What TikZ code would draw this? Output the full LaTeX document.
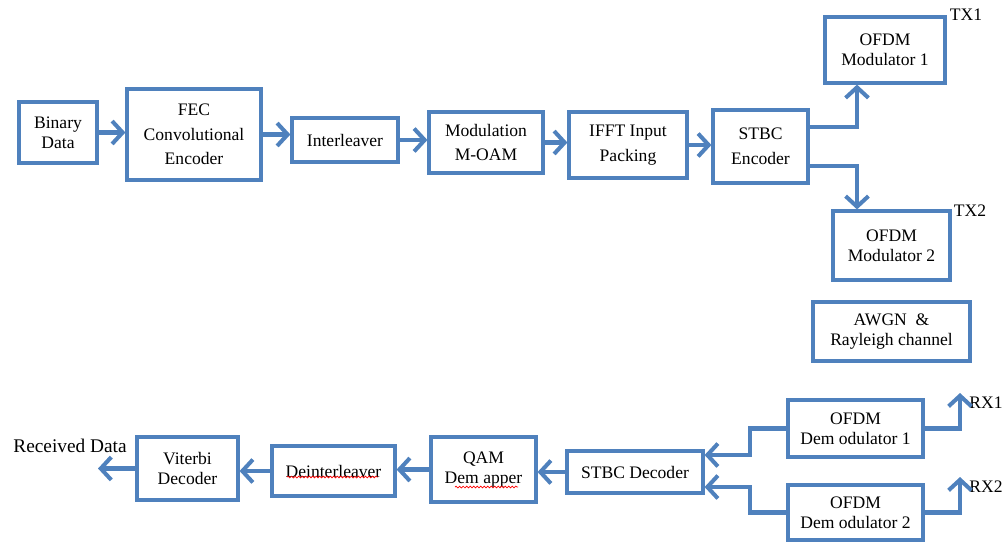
\documentclass[tikz,border=0pt]{standalone}
\usepackage{fontspec}
\setmainfont{Liberation Serif}
\usetikzlibrary{arrows.meta,decorations.pathmorphing}
\definecolor{ofblue}{RGB}{79,129,189}
\tikzset{
  box/.style={draw=ofblue, line width=1.8pt, fill=white, align=center, inner sep=1pt,
    font=\fontsize{10}{11.3}\selectfont},
  tallbox/.style={box, font=\fontsize{10}{14}\selectfont},
  arr/.style={draw=ofblue, line width=2.3pt, line join=miter,
    -{Straight Barb[length=6pt,width=13pt]}},
  lbl/.style={font=\fontsize{10}{12}\selectfont, inner sep=0pt},
  typo/.style={draw=red, line width=0.4pt,
    decorate, decoration={snake, amplitude=0.5pt, segment length=2pt}}
}
\begin{document}
\begin{tikzpicture}
\useasboundingbox (0,0) rectangle (20.06,-10.84);
% transmitter
\node (bin) at (1.16,-2.65) [box, minimum width=1.56cm, minimum height=1.22cm] {Binary\\Data};
\node (fec) at (3.88,-2.69) [tallbox, minimum width=2.68cm, minimum height=1.82cm] {FEC\\Convolutional\\Encoder};
\node (intl) at (6.9,-2.8) [box, minimum width=2.12cm, minimum height=0.88cm] {Interleaver};
\node (mod) at (9.72,-2.85) [tallbox, minimum width=2.28cm, minimum height=1.22cm] {Modulation\\M-OAM};
\node (ifft) at (12.56,-2.9) [tallbox, minimum width=2.36cm, minimum height=1.32cm] {IFFT Input\\Packing};
\node (stbce) at (15.21,-2.93) [tallbox, minimum width=1.9cm, minimum height=1.46cm] {STBC\\Encoder};
\node (ofdm1) at (17.7,-1.0) [box, minimum width=2.4cm, minimum height=1.32cm] {OFDM\\Modulator 1};
\node (ofdm2) at (17.83,-4.91) [box, minimum width=2.34cm, minimum height=1.38cm] {OFDM\\Modulator 2};
\node (tx1) at (19.32,-0.3) [lbl] {TX1};
\node (tx2) at (19.4,-4.22) [lbl] {TX2};
\coordinate (split) at (17.14,-2.93);
% channel
\node (awgn) at (17.83,-6.63) [box, minimum width=3.14cm, minimum height=1.18cm] {AWGN \ \&\\Rayleigh channel};
% receiver
\node (dem1) at (17.11,-8.57) [box, minimum width=2.7cm, minimum height=1.14cm] {OFDM\\Dem odulator 1};
\node (dem2) at (17.11,-10.25) [box, minimum width=2.7cm, minimum height=1.1cm] {OFDM\\Dem odulator 2};
\node (stbcd) at (12.7,-9.44) [box, minimum width=2.72cm, minimum height=0.84cm] {STBC Decoder};
\node (qam) at (9.67,-9.39) [box, minimum width=2.1cm, minimum height=1.3cm] {QAM\\Dem apper};
\node (deint) at (6.67,-9.42) [box, minimum width=2.46cm, minimum height=1.0cm] {Deinterleaver};
\node (vit) at (3.75,-9.37) [box, minimum width=2.02cm, minimum height=1.26cm] {Viterbi\\Decoder};
\node (rd) at (1.4,-8.92) [lbl, font=\fontsize{11}{13}\selectfont] {Received Data};
\node (rx1) at (19.72,-8.06) [lbl] {RX1};
\node (rx2) at (19.72,-9.74) [lbl] {RX2};
\coordinate (out) at (1.96,-9.37);
\coordinate (rx1t) at (19.2,-7.86);
\coordinate (rx2t) at (19.2,-9.54);
\coordinate (j1) at (15.0,-9.1);
\coordinate (j2) at (15.0,-9.74);
% connectors
\draw[arr] (bin.east) -- (bin.east -| fec.west);
\draw[arr] (fec.east) -- (fec.east -| intl.west);
\draw[arr] (intl.east) -- (intl.east -| mod.west);
\draw[arr] (mod.east) -- (mod.east -| ifft.west);
\draw[arr] (ifft.east) -- (ifft.east -| stbce.west);
\draw[arr] ([yshift=3.9mm]stbce.east) -| (split |- ofdm1.south);
\draw[arr] ([yshift=-3.9mm]stbce.east) -| (split |- ofdm2.north);
\draw[arr] (dem1.east) -| (rx1t);
\draw[arr] (dem2.east) -| (rx2t);
\draw[arr] (dem1.west) -| (j1) -- (j1 -| stbcd.east);
\draw[arr] (dem2.west) -| (j2) -- (j2 -| stbcd.east);
\draw[arr] (stbcd.west) -- (stbcd.west -| qam.east);
\draw[arr] (qam.west) -- (qam.west -| deint.east);
\draw[arr] (deint.west) -- (deint.west -| vit.east);
\draw[arr] (vit.west) -- (out);
% spell-check marks
\draw[typo] (5.74,-9.54) -- (7.56,-9.54);
\draw[typo] (9.1,-9.74) -- (10.36,-9.74);
\end{tikzpicture}
\end{document}
